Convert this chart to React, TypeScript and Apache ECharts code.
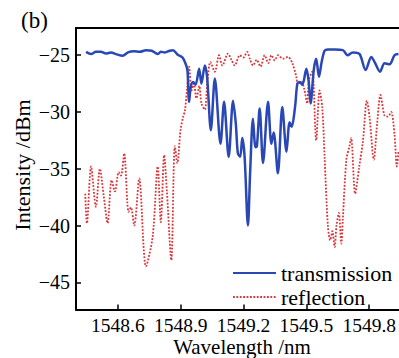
import React, { useEffect, useRef } from "react";
import * as echarts from "echarts";

const FONT = "Liberation Serif";
const BLUE = "#2947b5";
const RED = "#d8343a";

const xTicks = [1548.6, 1548.9, 1549.2, 1549.5, 1549.8];
const yTicks = [-45, -40, -35, -30, -25];

const transWavelength = [1548.448, 1548.472, 1548.495, 1548.519, 1548.543, 1548.567, 1548.591, 1548.623, 1548.648, 1548.677, 1548.705, 1548.734, 1548.762, 1548.790, 1548.805, 1548.824, 1548.848, 1548.863, 1548.886, 1548.909, 1548.920, 1548.932, 1548.940, 1548.948, 1548.959, 1548.971, 1548.988, 1548.999, 1549.015, 1549.026, 1549.044, 1549.063, 1549.090, 1549.107, 1549.129, 1549.150, 1549.163, 1549.173, 1549.184, 1549.194, 1549.205, 1549.221, 1549.232, 1549.245, 1549.257, 1549.264, 1549.277, 1549.293, 1549.317, 1549.333, 1549.344, 1549.364, 1549.385, 1549.405, 1549.420, 1549.430, 1549.446, 1549.457, 1549.468, 1549.481, 1549.500, 1549.511, 1549.520, 1549.536, 1549.547, 1549.560, 1549.573, 1549.587, 1549.603, 1549.635, 1549.674, 1549.697, 1549.721, 1549.754, 1549.783, 1549.810, 1549.826, 1549.852, 1549.873, 1549.897, 1549.921, 1549.940];
const transIntensity = [-24.7, -24.9, -24.7, -24.7, -24.85, -24.75, -24.9, -25.05, -24.75, -24.65, -24.7, -24.55, -24.6, -24.9, -24.7, -24.75, -24.6, -24.55, -24.95, -25.2, -25.6, -26.3, -29.1, -27.8, -27.35, -27.6, -26.2, -27.5, -25.9, -26.9, -31.6, -27.05, -32.8, -29.1, -33.95, -29.0, -31.0, -33.65, -33.95, -32.3, -33.9, -40.0, -35.1, -30.6, -33.1, -33.0, -29.7, -34.5, -29.1, -32.8, -31.8, -35.4, -29.55, -33.5, -30.9, -31.3, -29.55, -27.5, -27.35, -27.6, -26.2, -27.3, -29.25, -26.2, -25.3, -26.9, -25.6, -24.6, -24.5, -24.5, -24.55, -25.0, -24.75, -24.9, -26.3, -25.15, -25.6, -26.45, -25.7, -25.8, -25.0, -24.9];

const reflWavelength = [1548.444, 1548.452, 1548.472, 1548.495, 1548.514, 1548.533, 1548.551, 1548.570, 1548.586, 1548.604, 1548.615, 1548.630, 1548.651, 1548.662, 1548.678, 1548.702, 1548.734, 1548.766, 1548.790, 1548.805, 1548.821, 1548.834, 1548.855, 1548.872, 1548.884, 1548.899, 1548.912, 1548.920, 1548.931, 1548.940, 1548.952, 1548.963, 1548.975, 1548.989, 1548.999, 1549.015, 1549.027, 1549.042, 1549.063, 1549.083, 1549.099, 1549.126, 1549.142, 1549.158, 1549.182, 1549.199, 1549.217, 1549.230, 1549.245, 1549.263, 1549.281, 1549.301, 1549.318, 1549.333, 1549.349, 1549.365, 1549.388, 1549.412, 1549.433, 1549.452, 1549.460, 1549.476, 1549.490, 1549.504, 1549.512, 1549.528, 1549.547, 1549.563, 1549.576, 1549.587, 1549.603, 1549.614, 1549.624, 1549.635, 1549.644, 1549.655, 1549.667, 1549.674, 1549.691, 1549.706, 1549.714, 1549.733, 1549.751, 1549.770, 1549.789, 1549.802, 1549.822, 1549.838, 1549.854, 1549.873, 1549.889, 1549.905, 1549.921, 1549.932, 1549.940];
const reflIntensity = [-37.2, -39.8, -34.8, -38.35, -35.0, -37.5, -39.8, -36.0, -37.0, -35.3, -35.6, -33.65, -38.8, -38.4, -40.0, -35.85, -43.6, -41.0, -34.8, -39.7, -33.8, -37.0, -43.05, -33.0, -34.5, -31.6, -30.4, -29.9, -27.8, -26.0, -28.1, -27.5, -28.8, -27.7, -29.25, -29.8, -27.4, -25.6, -26.45, -25.0, -25.9, -24.85, -25.4, -25.9, -25.0, -25.2, -24.7, -25.3, -25.9, -25.4, -26.0, -25.0, -25.7, -25.0, -25.45, -25.0, -25.3, -25.15, -25.7, -26.9, -27.6, -27.3, -28.0, -29.25, -27.2, -26.45, -32.5, -28.1, -29.6, -33.95, -40.1, -41.3, -40.5, -41.9, -40.0, -38.9, -41.6, -39.5, -34.2, -33.0, -32.3, -37.2, -35.0, -32.6, -29.0, -30.5, -34.2, -31.0, -28.5, -30.3, -30.4, -30.0, -32.0, -34.8, -33.5];

const X_MIN = 1548.4;
const X_MAX = 1549.94;

export default function App() {
  const ref = useRef<HTMLDivElement>(null);
  useEffect(() => {
    document.body.style.margin = "0";
    const chart = echarts.init(ref.current!, null, { renderer: "svg" });
    const transData = transWavelength.map((w, i) => [w, transIntensity[i]]);
    const reflData = reflWavelength.map((w, i) => [w, reflIntensity[i]]);
    chart.setOption({
      animation: false,
      backgroundColor: "#fff",
      textStyle: { fontFamily: FONT },
      grid: { left: 76, right: 0, top: 28, bottom: 48.5, containLabel: false },
      xAxis: [
        {
          type: "value",
          min: X_MIN,
          max: X_MAX,
          position: "bottom",
          axisLine: { show: true, onZero: false, lineStyle: { color: "#000", width: 2 } },
          axisTick: { show: true, inside: true, length: 5, customValues: xTicks, lineStyle: { color: "#000", width: 1.5 } },
          axisLabel: {
            customValues: xTicks,
            fontSize: 19.5,
            fontFamily: FONT,
            color: "#000",
            margin: 6,
            formatter: (v: number) => v.toFixed(1),
          },
          splitLine: { show: false },
        },
        {
          type: "value",
          min: X_MIN,
          max: X_MAX,
          position: "top",
          axisLine: { show: true, onZero: false, lineStyle: { color: "#000", width: 2 } },
          axisTick: { show: false },
          axisLabel: { show: false },
          splitLine: { show: false },
        },
      ],
      yAxis: {
        type: "value",
        min: -47.4,
        max: -22.6,
        axisLine: { show: true, onZero: false, lineStyle: { color: "#000", width: 2 } },
        axisTick: { show: true, inside: true, length: 5, customValues: yTicks, lineStyle: { color: "#000", width: 1.5 } },
        axisLabel: {
          customValues: yTicks,
          fontSize: 20,
          fontFamily: FONT,
          color: "#000",
          margin: 6,
          formatter: (v: number) => String(v).replace("-", "\u2212"),
        },
        splitLine: { show: false },
      },
      legend: {
        orient: "vertical",
        left: 232,
        top: 262,
        padding: 0,
        itemWidth: 43,
        itemHeight: 14,
        itemGap: 2,
        data: ["transmission", "reflection"],
        itemStyle: { opacity: 0 },
        textStyle: { fontSize: 22, fontFamily: FONT, color: "#000", lineHeight: 22 },
      },
      graphic: [
        {
          type: "text",
          x: 21,
          y: 20,
          style: { text: "(b)", fontSize: 23, fontFamily: FONT, fill: "#000", align: "left", verticalAlign: "middle" },
        },
        {
          type: "text",
          x: 22,
          y: 165,
          rotation: Math.PI / 2,
          style: { text: "Intensity /dBm", fontSize: 22, fontFamily: FONT, fill: "#000", align: "center", verticalAlign: "middle" },
        },
        {
          type: "text",
          x: 242,
          y: 346.5,
          style: { text: "Wavelength /nm", fontSize: 21, fontFamily: FONT, fill: "#000", align: "center", verticalAlign: "middle" },
        },
      ],
      series: [
        {
          name: "transmission",
          type: "line",
          data: transData,
          symbol: "none",
          showSymbol: false,
          smooth: 0.3,
          z: 3,
          lineStyle: { color: BLUE, width: 2.5 },
          itemStyle: { color: BLUE },
        },
        {
          name: "reflection",
          type: "line",
          data: reflData,
          symbol: "none",
          showSymbol: false,
          smooth: 0.3,
          z: 2,
          lineStyle: { color: RED, width: 1.8, type: [1.8, 1.6] },
          itemStyle: { color: RED },
        },
      ],
    });
    return () => chart.dispose();
  }, []);
  return <div ref={ref} style={{ width: 399, height: 358 }} />;
}
